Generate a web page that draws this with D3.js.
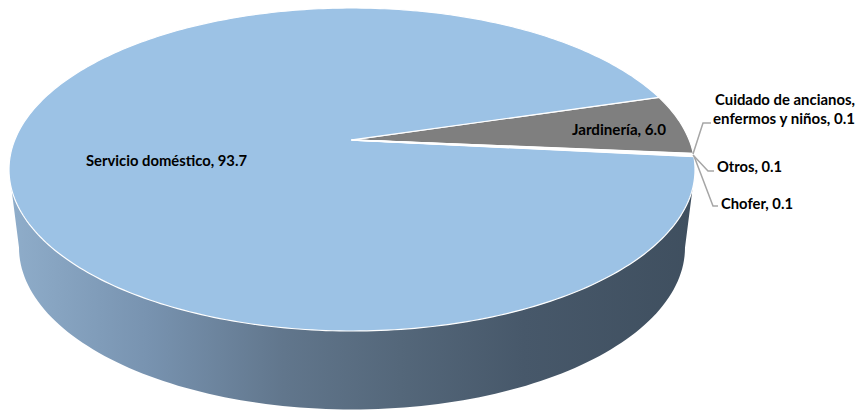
<!DOCTYPE html>
<html><head><meta charset="utf-8">
<script src="https://cdn.jsdelivr.net/npm/d3@7"></script>
<style>html,body{margin:0;background:#fff}svg{display:block}</style></head><body>
<div id="c"></div>
<script>
const categories = ["Jardinería","Cuidado de ancianos, enfermos y niños","Otros","Chofer","Servicio doméstico"];
const values = [6.0,0.1,0.1,0.1,93.7];
const sliceColors = ["#7f7f7f","#ffffff","#ffffff","#ffffff","#9cc2e5"];
const W=859,H=411;
const top_={cx:352,cy:169.5,rx:343,ry:161.5}, bot={cx:352,cy:247.5,rx:333,ry:162};
const t=-0.183; // perspective shift of the centre
const svg=d3.select("#c").append("svg").attr("width",W).attr("height",H).style("font-family","Lato,sans-serif");
const defs=svg.append("defs");
const g=defs.append("linearGradient").attr("id","side").attr("gradientUnits","userSpaceOnUse").attr("x1",10).attr("x2",695).attr("y1",0).attr("y2",0);
[[0,"#8fadca"],[0.2,"#7893b0"],[0.4,"#61768c"],[0.57,"#54677a"],[0.75,"#47586a"],[1,"#3f4f5f"]].forEach(s=>g.append("stop").attr("offset",s[0]).attr("stop-color",s[1]));
function proj(a,r){ // a clockwise from 12 o'clock
  const x=r*Math.sin(a), y=-r*Math.cos(a), d=1+t*y;
  return [top_.cx+top_.rx*x*Math.sqrt(1-t*t)/d, top_.cy+top_.ry*(y+t)/d];
}
const line=d3.line();
function ell(e,a0,a1){return d3.range(0,121).map(i=>{const a=a0+(a1-a0)*i/120;return [e.cx+e.rx*Math.cos(a),e.cy+e.ry*Math.sin(a)];});}
svg.append("path").attr("d",line([...ell(top_,Math.PI,Math.PI),...ell(bot,Math.PI,0),...ell(top_,0,0)])+"Z").attr("fill","url(#side)");
const start=73.3*Math.PI/180;
const pie=d3.pie().sort(null).value(d=>d).startAngle(start).endAngle(start+2*Math.PI);
const arcs=pie(values);
svg.selectAll("path.s").data(arcs).join("path").attr("class","s")
 .attr("d",d=>{const n=Math.max(2,Math.ceil((d.endAngle-d.startAngle)*60));
   const pts=d3.range(n+1).map(i=>proj(d.startAngle+(d.endAngle-d.startAngle)*i/n,1));
   return line([proj(0,0),...pts])+"Z";})
 .attr("fill",(d,i)=>sliceColors[i]).attr("stroke","#fff")
 .attr("stroke-width",(d,i)=>(i>=1&&i<=3)?1.6:1.2).attr("stroke-linejoin","round")
 .filter((d,i)=>i>=1&&i<=3).raise();
const leaders=[[[693,154],[703,123],[711,123]],[[693,155],[708,171],[714,171]],[[694,156],[713,206],[718,206]]];
svg.selectAll("path.l").data(leaders).join("path").attr("class","l").attr("d",line).attr("fill","none").attr("stroke","#a6a6a6").attr("stroke-width",1.5);
const labels=[
 {text:categories[4]+", "+d3.format(".1f")(values[4]),x:86,y:166,len:161},
 {text:categories[0]+", "+d3.format(".1f")(values[0]),x:572,y:135,len:94},
 {text:"Cuidado de ancianos,",x:715,y:105,len:140},
 {text:"enfermos y niños, "+d3.format(".1f")(values[1]),x:713,y:124,len:142},
 {text:categories[2]+", "+d3.format(".1f")(values[2]),x:717,y:172,len:65},
 {text:categories[3]+", "+d3.format(".1f")(values[3]),x:721,y:209,len:72}];
svg.selectAll("text").data(labels).join("text").attr("x",d=>d.x).attr("y",d=>d.y).text(d=>d.text)
 .attr("textLength",d=>d.len).attr("lengthAdjust","spacingAndGlyphs")
 .attr("font-size",15).attr("font-weight",700).attr("fill","#000");
</script></body></html>
